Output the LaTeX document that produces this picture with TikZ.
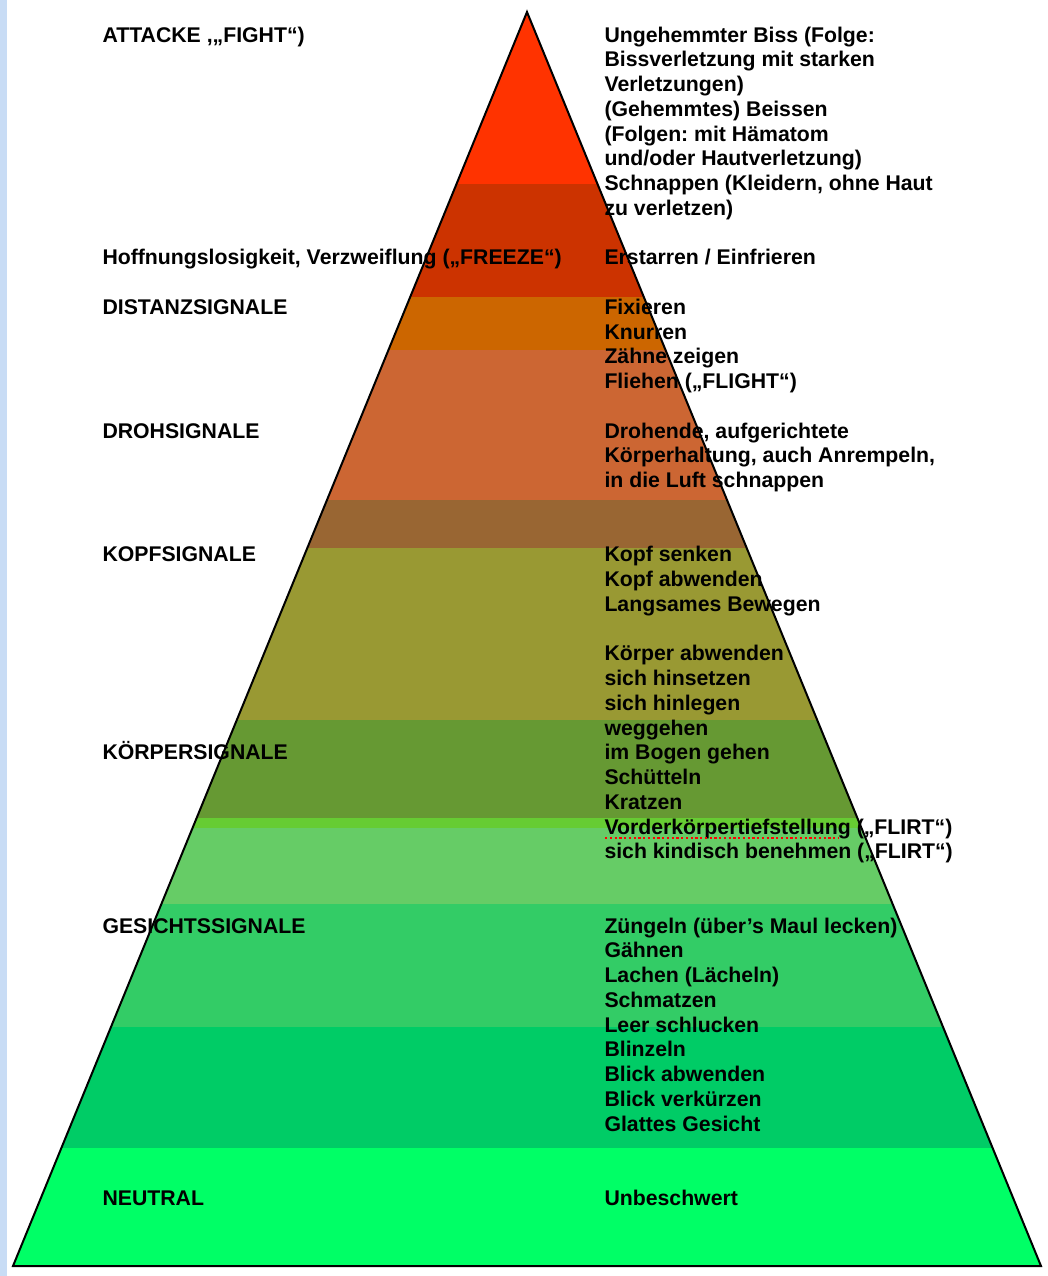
\documentclass[tikz,border=0pt]{standalone}
\usepackage{fontspec}
\setmainfont{Liberation Sans}
\frenchspacing
\usetikzlibrary{positioning}
\definecolor{edgeblue}{RGB}{200,220,245}
\definecolor{bFight}{HTML}{FF3300}
\definecolor{bBite}{HTML}{CC3300}
\definecolor{bDistanz}{HTML}{CC6600}
\definecolor{bDroh}{HTML}{CC6633}
\definecolor{bDrohLow}{HTML}{996633}
\definecolor{bKopf}{HTML}{999933}
\definecolor{bKoerper}{HTML}{669933}
\definecolor{bFlirtLine}{HTML}{66CC33}
\definecolor{bFlirt}{HTML}{66CC66}
\definecolor{bGesicht}{HTML}{33CC66}
\definecolor{bGesichtLow}{HTML}{00CC66}
\definecolor{bNeutral}{HTML}{00FF66}
\tikzset{
	sigtitle/.style={anchor=base west, inner sep=0pt, font=\bfseries\fontsize{8.5}{9.9}\selectfont},
	siglist/.style={sigtitle, align=left} % base = last line
}

\begin{document}
\begin{tikzpicture}[x=0.4pt, y=-0.4pt]
	\useasboundingbox (0,0) rectangle (1048,1276);
	\fill[edgeblue] (0,0) rectangle (7,1276);

	\coordinate (apex) at (527,12);
	\coordinate (bl) at (13,1266);
	\coordinate (br) at (1041,1266);

	% bands
	\begin{scope}
		\clip (apex) -- (bl) -- (br) -- cycle;
		\fill[bFight] (0,0) rectangle (1048,184);
		\fill[bBite] (0,184) rectangle (1048,297);
		\fill[bDistanz] (0,297) rectangle (1048,350);
		\fill[bDroh] (0,350) rectangle (1048,500);
		\fill[bDrohLow] (0,500) rectangle (1048,548);
		\fill[bKopf] (0,548) rectangle (1048,720);
		\fill[bKoerper] (0,720) rectangle (1048,818);
		\fill[bFlirtLine] (0,818) rectangle (1048,828);
		\fill[bFlirt] (0,828) rectangle (1048,904);
		\fill[bGesicht] (0,904) rectangle (1048,1027);
		\fill[bGesichtLow] (0,1027) rectangle (1048,1148);
		\fill[bNeutral] (0,1148) rectangle (1048,1270);
	\end{scope}
	\draw[line width=0.8pt, line join=miter] (apex) -- (bl) -- (br) -- cycle;

	% left column
	\node[sigtitle] (attack) at (102,42) {ATTACKE ,„FIGHT“)};
	\node[sigtitle] (freeze) at (102,264.75) {Hoffnungslosigkeit, Verzweiflung („FREEZE“)};
	\node[sigtitle] (distanz) at (102,314.25) {DISTANZSIGNALE};
	\node[sigtitle] (droh) at (102,438) {DROHSIGNALE};
	\node[sigtitle] (kopf) at (102,561.75) {KOPFSIGNALE};
	\node[sigtitle] (koerper) at (102,759.75) {KÖRPERSIGNALE};
	\node[sigtitle] (gesicht) at (102,933) {GESICHTSSIGNALE};
	\node[sigtitle] (neutral) at (102,1205.25) {NEUTRAL};

	% right column
	\node[siglist] (attackR) at (604,215.25) {Ungehemmter Biss (Folge:\\Bissverletzung mit starken\\Verletzungen)\\(Gehemmtes) Beissen\\(Folgen: mit Hämatom\\und/oder Hautverletzung)\\Schnappen (Kleidern, ohne Haut\\zu verletzen)};
	\node[siglist] (freezeR) at (604,264.75) {Erstarren / Einfrieren};
	\node[siglist] (distanzR) at (604,388.5) {Fixieren\\Knurren\\Zähne zeigen\\Fliehen („FLIGHT“)};
	\node[siglist] (drohR) at (604,487.5) {Drohende, aufgerichtete\\Körperhaltung, auch Anrempeln,\\in die Luft schnappen};
	\node[siglist] (kopfR) at (604,611.25) {Kopf senken\\Kopf abwenden\\Langsames Bewegen};
	\node[siglist] (koerperR) at (604,858.75) {Körper abwenden\\sich hinsetzen\\sich hinlegen\\weggehen\\im Bogen gehen\\Schütteln\\Kratzen\\Vorderkörpertiefstellung („FLIRT“)\\sich kindisch benehmen („FLIRT“)};
	\node[siglist] (gesichtR) at (604,1131) {Züngeln (über's Maul lecken)\\Gähnen\\Lachen (Lächeln)\\Schmatzen\\Leer schlucken\\Blinzeln\\Blick abwenden\\Blick verkürzen\\Glattes Gesicht};
	\node[siglist] (neutralR) at (604,1205.25) {Unbeschwert};

	\draw[red, densely dotted, line width=0.9pt] (605,838) -- (838,838);
\end{tikzpicture}
\end{document}
